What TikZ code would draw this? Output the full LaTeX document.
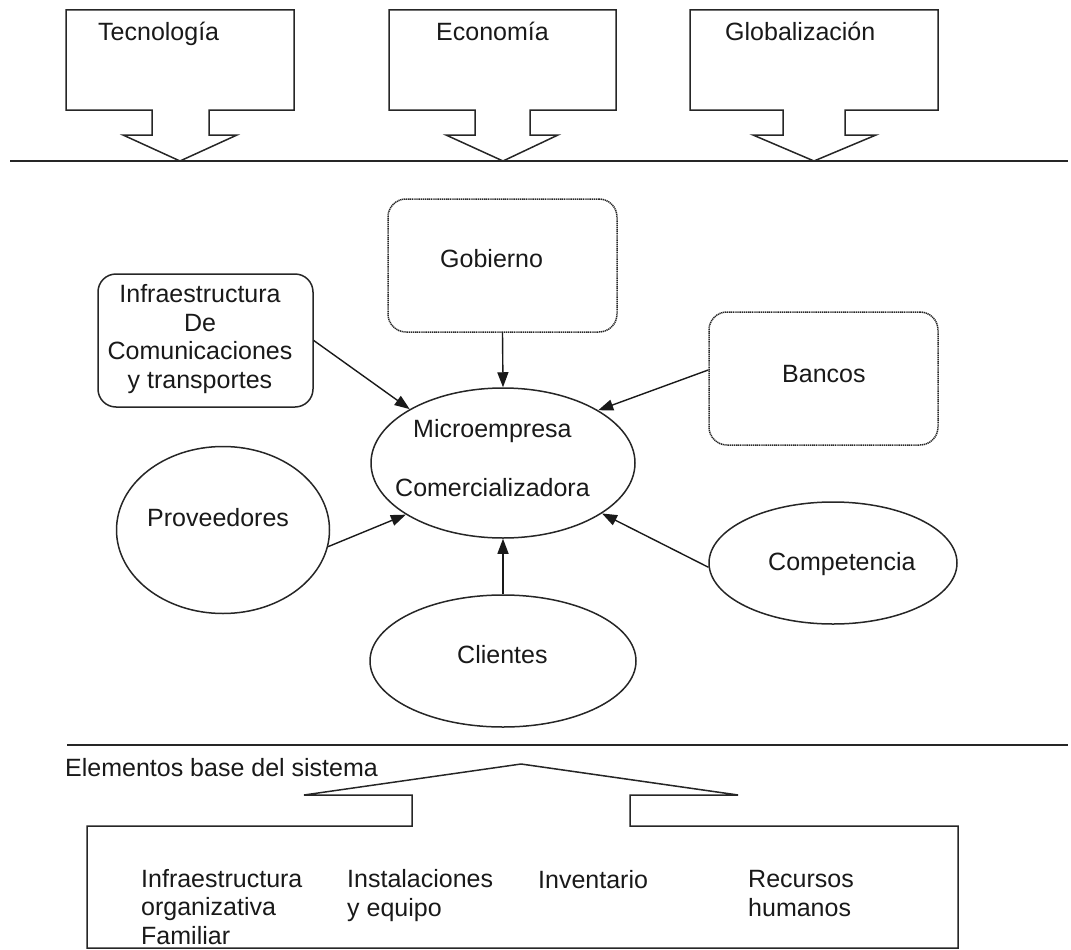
\documentclass[tikz,border=0pt]{standalone}
\usepackage{fontspec}
\setmainfont{Liberation Sans}
\usetikzlibrary{arrows.meta,shapes.geometric}
\begin{document}
\begin{tikzpicture}[x=1pt,y=-1pt,
  every node/.style={font=\fontsize{25}{28.5}\selectfont, inner sep=0pt, text=black!90},
  outline/.style={draw=black!85, line width=1.5pt, line join=miter},
  lbl/.style={anchor=base west},
  oval/.style={ellipse, draw=black!85, line width=1.5pt},
  dotbox/.style={rectangle, rounded corners=18pt, draw=black!85, line width=1.5pt,
                 dash pattern=on 1.2pt off 0.7pt},
  solidbox/.style={rectangle, rounded corners=18pt, draw=black!85, line width=1.5pt},
  link/.style={draw=black!90, line width=1.4pt, -{Triangle[length=15pt,width=11pt]}},
]
\useasboundingbox (0,0) rectangle (1071,950);

% ---- external forces: box-arrows pointing down onto the boundary line ----
\draw[outline] (66,10) -- (294,10) -- (294,110) -- (209,110) -- (209,135) -- (237,135)
  -- (180,161) -- (123,135) -- (152,135) -- (152,110) -- (66,110) -- cycle;
\node[lbl] (tec) at (98,41) {Tecnología};

\draw[outline] (389,10) -- (616,10) -- (616,110) -- (530,110) -- (530,135) -- (558,135)
  -- (503,161) -- (446,135) -- (475,135) -- (475,110) -- (389,110) -- cycle;
\node[lbl] (eco) at (436,41) {Economía};

\draw[outline] (690,10) -- (938,10) -- (938,110) -- (845,110) -- (845,135) -- (876,135)
  -- (814,161) -- (753,135) -- (783,135) -- (783,110) -- (690,110) -- cycle;
\node[lbl] (glo) at (725,41) {Globalización};

\coordinate (topL) at (10,161);
\coordinate (topR) at (1068,161);
\draw[outline] (topL) -- (topR);

% ---- environment around the firm ----
\node[dotbox, minimum width=229pt, minimum height=133pt] (gob) at (502.5,265.5) {};
\node[lbl] (gobt) at (440,267) {Gobierno};

\node[solidbox, minimum width=215pt, minimum height=133pt] (infra) at (205.5,340.5) {};
\node[align=center] (infrat) at (200,339)
  {Infraestructura\\De\\Comunicaciones\\y transportes};

\node[dotbox, minimum width=229pt, minimum height=133pt] (ban) at (823.5,378.5) {};
\node[lbl] (bant) at (782,382) {Bancos};

\node[oval, minimum width=264pt, minimum height=150pt] (m) at (503,463) {};
\node[lbl] (mt1) at (413,437) {Microempresa};
\node[lbl] (mt2) at (395,496) {Comercializadora};

\node[oval, minimum width=213pt, minimum height=167pt] (prov) at (223,530) {};
\node[lbl] (provt) at (147,526) {Proveedores};

\node[oval, minimum width=248pt, minimum height=122pt] (comp) at (833,563) {};
\node[lbl] (compt) at (768,570) {Competencia};

\node[oval, minimum width=266pt, minimum height=132pt] (cli) at (503,661) {};
\node[lbl] (clit) at (457,663) {Clientes};

\draw[link] (gob.south) -- (m.north);
\draw[link] (infra.east) -- (m.150.8);
\draw[link] ([yshift=8.5pt]ban.west) -- (m.29.2);
\draw[link] (prov.-9) -- (m.208.9);
\draw[link] (comp.182) -- (m.333.2);
\draw[link] (cli.north) -- (m.south);

% ---- base elements of the system ----
\coordinate (botL) at (67,745);
\coordinate (botR) at (1068,745);
\draw[outline] (botL) -- (botR);
\node[lbl] (elem) at (65,776) {Elementos base del sistema};

\draw[outline] (87,948) -- (87,826) -- (412,826) -- (412,795) -- (304,795) -- (521,764)
  -- (738,795) -- (630,795) -- (630,826) -- (958,826) -- (958,948) -- cycle;

% multi-line labels: the base anchor sits on the last line
\node[lbl, align=left] (b1) at (141,944) {Infraestructura\\organizativa\\Familiar};
\node[lbl, align=left] (b2) at (347,916) {Instalaciones\\y equipo};
\node[lbl] (b3) at (538,888) {Inventario};
\node[lbl, align=left] (b4) at (748,916) {Recursos\\humanos};
\end{tikzpicture}
\end{document}
